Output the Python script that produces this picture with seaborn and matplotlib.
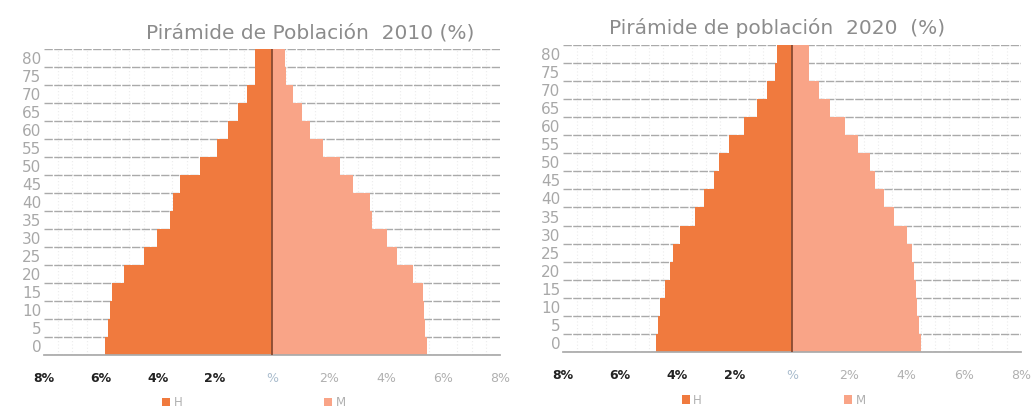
import numpy as np
import pandas as pd
import matplotlib
matplotlib.use("Agg")
import matplotlib.pyplot as plt
import seaborn as sns

# grupos de edad (de arriba a abajo)
edades = ["80", "75", "70", "65", "60", "55", "50", "45", "40",
          "35", "30", "25", "20", "15", "10", "5", "0"]

# 2010 (%)
h_2010 = [0.60, 0.58, 0.88, 1.19, 1.54, 1.93, 2.52, 3.23, 3.47,
          3.58, 4.04, 4.50, 5.20, 5.60, 5.68, 5.75, 5.86]
m_2010 = [0.47, 0.50, 0.74, 1.04, 1.33, 1.79, 2.39, 2.84, 3.44,
          3.50, 4.03, 4.38, 4.95, 5.30, 5.32, 5.37, 5.44]

# 2020 (%)
h_2020 = [0.53, 0.58, 0.86, 1.21, 1.68, 2.21, 2.56, 2.74, 3.09,
          3.39, 3.92, 4.15, 4.27, 4.45, 4.62, 4.68, 4.74]
m_2020 = [0.61, 0.61, 0.94, 1.32, 1.85, 2.32, 2.73, 2.90, 3.20,
          3.55, 4.02, 4.20, 4.26, 4.32, 4.38, 4.44, 4.50]

titulos = ["Pirámide de Población  2010 (%)", "Pirámide de población  2020  (%)"]
xticks = [-8, -6, -4, -2, 0, 2, 4, 6, 8]
xlabels = ["8%", "6%", "4%", "2%", "%", "2%", "4%", "6%", "8%"]

COL_H = "#f07a3e"
COL_M = "#f9a487"

sns.set_theme(style="white")
plt.rcParams["font.family"] = ["DejaVu Sans"]

fig = plt.figure(figsize=(10.32, 4.15), dpi=100)
posiciones = [[0.0426, 0.1446, 0.442, 0.737], [0.5455, 0.1518, 0.4438, 0.740]]
datos = [(h_2010, m_2010), (h_2020, m_2020)]
titulo_x = [0.583, 0.467]
leyenda_x = [0.46, 0.46]

for pos, (h, m), titulo, tx, lx in zip(posiciones, datos, titulos, titulo_x, leyenda_x):
    ax = fig.add_axes(pos)
    df = pd.DataFrame({"edad": edades, "H": -np.array(h), "M": np.array(m)})
    sns.barplot(data=df, x="H", y="edad", order=edades, color=COL_H,
                width=1.0, saturation=1, ax=ax, label="H", linewidth=0)
    sns.barplot(data=df, x="M", y="edad", order=edades, color=COL_M,
                width=1.0, saturation=1, ax=ax, label="M", linewidth=0)

    ax.set_xlim(-8, 8)
    ax.set_ylim(len(edades) - 0.5, -0.5)
    ax.set_xlabel("")
    ax.set_ylabel("")

    # rejilla horizontal en los bordes de cada fila
    ax.set_yticks(np.arange(-0.5, len(edades)), minor=True)
    ax.grid(False)
    ax.grid(axis="y", which="minor", color="#aaaaaa", linestyle=(0, (6, 1)), linewidth=1)
    ax.set_xticks(np.arange(-8, 8.1, 0.5), minor=True)
    ax.grid(axis="x", which="minor", color="#ececec", linestyle=(0, (1, 2)), linewidth=0.8)
    ax.set_axisbelow(True)
    ax.tick_params(axis="y", which="minor", length=0)

    ax.axvline(0, color="#8a4a30", linewidth=1.3, zorder=5)

    for s in ["top", "right", "left"]:
        ax.spines[s].set_visible(False)
    ax.spines["bottom"].set_color("#aaaaaa")

    ax.set_xticks(xticks)
    ax.set_xticklabels(xlabels, fontsize=9)
    ax.tick_params(axis="x", which="major", length=3, color="#c8c8c8", pad=9)
    ax.tick_params(axis="x", which="minor", length=0)
    for i, t in enumerate(ax.get_xticklabels()):
        if i < 4:
            t.set_color("#222222")
            t.set_fontweight("bold")
        elif i == 4:
            t.set_color("#a9bccd")
        else:
            t.set_color("#b0b0b0")

    ax.set_yticks(range(len(edades)))
    ax.set_yticklabels(edades, fontsize=11, color="#a8a8a8")
    ax.tick_params(axis="y", which="major", length=0, pad=2)

    ax.set_title(titulo, fontsize=14.5, color="#8c8c8c", pad=8, x=tx)

    leg = ax.legend(loc="upper center", bbox_to_anchor=(lx, -0.12), ncol=2,
                    frameon=False, fontsize=8.5, handlelength=0.7, handleheight=0.7,
                    columnspacing=12, handletextpad=0.3, borderaxespad=0)
    for t in leg.get_texts():
        t.set_color("#b0b0b0")

fig.savefig("out.png", dpi=100)
